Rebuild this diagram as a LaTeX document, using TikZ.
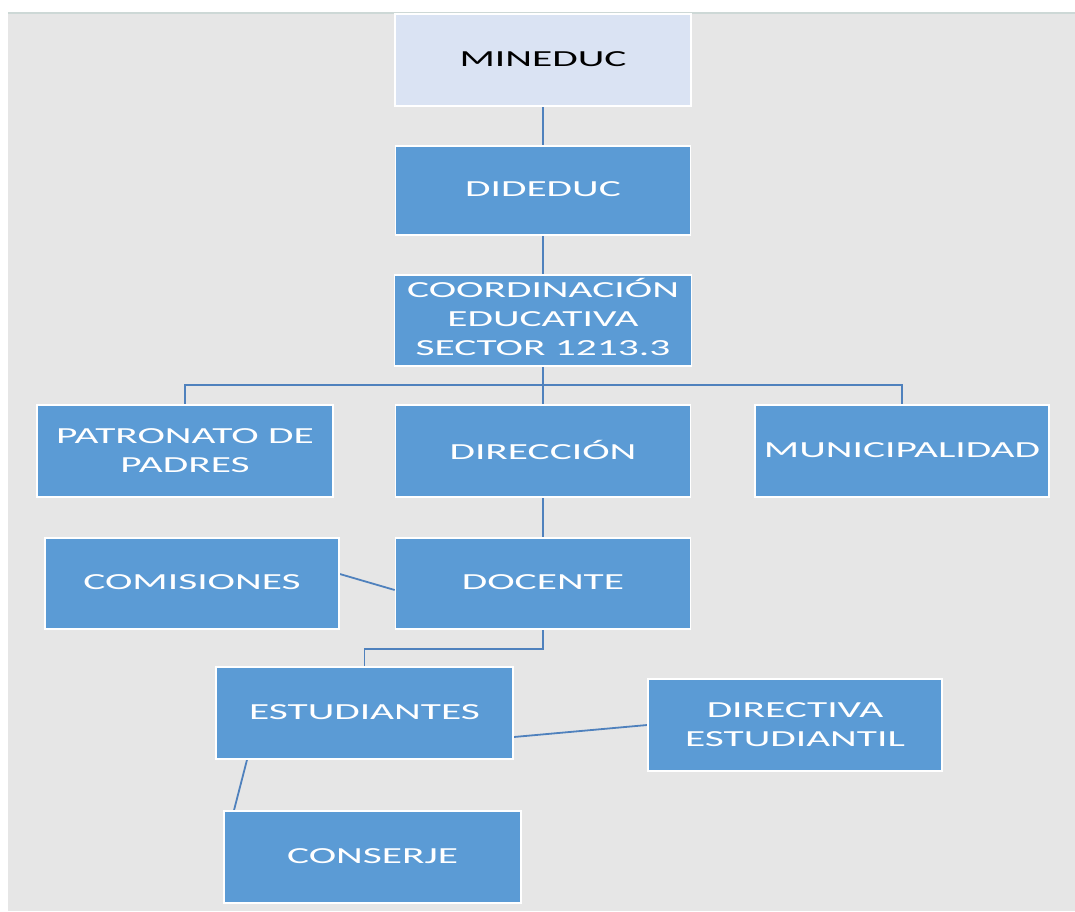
\documentclass[tikz,border=0pt]{standalone}
\usepackage{fontspec}
\usetikzlibrary{calc}
\newfontfamily\boxfont[FakeStretch=1.8]{Carlito}
\definecolor{bggray}{HTML}{E6E6E6}
\definecolor{boxblue}{HTML}{5B9BD5}
\definecolor{boxlight}{HTML}{DAE3F3}
\definecolor{linkblue}{HTML}{4F81BD}
\pgfdeclarelayer{background}
\pgfsetlayers{background,main}
\tikzset{
  orgbox/.style={draw=white, line width=1.6pt, fill=boxblue, text=white,
    font=\boxfont\fontsize{23}{29}\selectfont, align=center, inner sep=0pt,
    minimum width=296pt, minimum height=91pt},
  topbox/.style={orgbox, fill=boxlight, text=black},
  link/.style={draw=linkblue, line width=1.8pt}
}
\begin{document}
\begin{tikzpicture}[x=1pt,y=-1pt]
\useasboundingbox (0,0) rectangle (1075,911);

\node[topbox, minimum height=92pt] (mineduc) at (543,60) {\raisebox{2pt}{MINEDUC}};
\node[orgbox, minimum height=89pt, minimum width=295pt] (dideduc) at (543,190.5) {\raisebox{2pt}{DIDEDUC}};
\node[orgbox, minimum width=297pt] (coord) at (543,320.5) {\raisebox{2.5pt}{\begin{tabular}{@{}c@{}}COORDINACIÓN\\EDUCATIVA\\SECTOR 1213.3\end{tabular}}};
\node[orgbox, minimum height=92pt] (patronato) at (185,451) {PATRONATO DE\\PADRES};
\node[orgbox, minimum width=295pt, minimum height=92pt] (direccion) at (543,451) {\raisebox{2pt}{DIRECCIÓN}};
\node[orgbox, minimum width=294pt, minimum height=92pt] (municipalidad) at (902,451) {\raisebox{2pt}{MUNICIPALIDAD}};
\node[orgbox, minimum width=294pt] (comisiones) at (192,583.5) {\raisebox{2pt}{COMISIONES}};
\node[orgbox, minimum width=295pt] (docente) at (543,583.5) {\raisebox{2pt}{DOCENTE}};
\node[orgbox, minimum width=297pt, minimum height=92pt] (estudiantes) at (364.5,713) {\raisebox{2pt}{ESTUDIANTES}};
\node[orgbox, minimum width=294pt, minimum height=92pt] (directiva) at (795,725) {DIRECTIVA\\ESTUDIANTIL};
\node[orgbox, minimum width=297pt, minimum height=92pt] (conserje) at (372.5,857) {\raisebox{2pt}{CONSERJE}};

\coordinate (bus) at (543,385);
\coordinate (dbend) at (543,649);

\begin{pgfonlayer}{background}
\fill[white] (0,0) rectangle (1075,911);
\fill[bggray] (8,13) rectangle (1075,911);
\draw[color={rgb,255:red,205;green,216;blue,214}, line width=1.5pt] (8,13) -- (1075,13);
\draw[link] (mineduc.south) -- (dideduc.north);
\draw[link] (dideduc.south) -- (coord.north);
\draw[link] (coord.south) -- (bus);
\draw[link] (patronato.north) |- (bus) -| (municipalidad.north);
\draw[link] (bus) -- (direccion.north);
\draw[link] (direccion.south) -- (docente.north);
\draw[link] ($(comisiones.east)+(0,-9.5)$) -- ($(docente.west)+(0,6.5)$);
\draw[link] (docente.south) -- (dbend) -| (estudiantes.north);
\draw[link] ($(estudiantes.east)+(0,24)$) -- (directiva.west);
\draw[link] ($(estudiantes.south)+(-117.5,0)$) -- ($(conserje.north)+(-138.5,0)$);
\end{pgfonlayer}
\end{tikzpicture}
\end{document}
